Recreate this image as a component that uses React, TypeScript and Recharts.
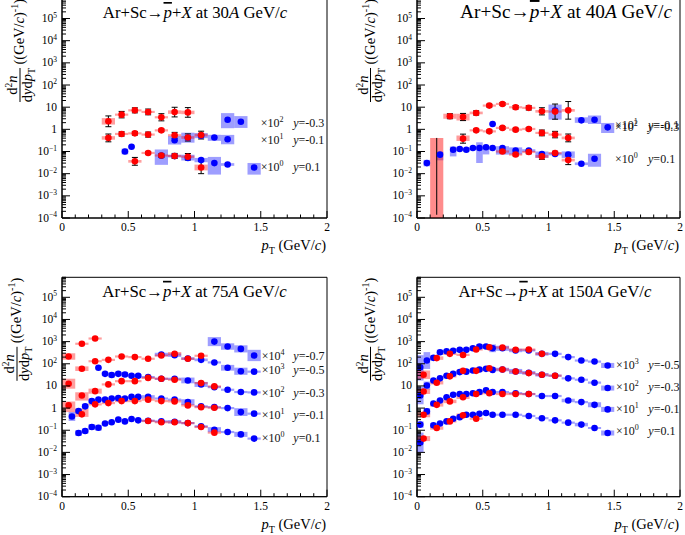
import React from 'react';
import { ScatterChart, Scatter, XAxis, YAxis, ErrorBar, ReferenceArea, ReferenceLine } from 'recharts';

const SERIF = "'Liberation Serif', Tinos, 'Times New Roman', 'DejaVu Serif', serif";
const Y_DOMAIN: [number, number] = [1e-4, 8e5];
const X_DOMAIN: [number, number] = [0, 2];

// ---- tick definitions ----
const xMajorTicks = [0, 0.5, 1, 1.5, 2];
const xMajorLabels = ['0', '0.5', '1', '1.5', '2'];
const xMinorTicks = [0.1, 0.2, 0.3, 0.4, 0.6, 0.7, 0.8, 0.9, 1.1, 1.2, 1.3, 1.4, 1.6, 1.7, 1.8, 1.9];
const yDecadeTicks = [1e-4, 1e-3, 1e-2, 1e-1, 1, 10, 1e2, 1e3, 1e4, 1e5];
const yDecadeExponents = [-4, -3, -2, -1, 0, 1, 2, 3, 4, 5];
const yMinorSteps = [2, 3, 4, 5, 6, 7, 8, 9];

// ---- data: [pT, value, sysUp, sysDown, stat] (multiplicative factors) ----
const red30 = [
  [0.35, 2.3, 1.4, 1.4, 1.75], [0.45, 4.6, 1.12, 1.12, 1.4], [0.55, 7.2, 1.12, 1.12, 1.3],
  [0.65, 6.1, 1.12, 1.12, 1.35], [0.75, 3.5, 1.12, 1.12, 1.45], [0.85, 6.0, 1.2, 1.2, 1.65],
  [0.95, 5.8, 1.2, 1.2, 1.65],
  [0.35, 0.41, 1.2, 1.2, 1.5], [0.45, 0.62, 1.12, 1.12, 1.25], [0.55, 0.66, 1.12, 1.12, 1.2],
  [0.65, 0.58, 1.12, 1.12, 1.3], [0.75, 0.9, 1.12, 1.12, 1.15], [0.85, 0.54, 1.12, 1.12, 1.35],
  [0.95, 0.43, 1.15, 1.15, 1.45], [1.05, 0.55, 1.15, 1.15, 1.5],
  [0.55, 0.036, 1.15, 1.15, 1.5], [0.65, 0.086, 1.12, 1.12, 1.15], [0.75, 0.066, 1.12, 1.12, 1.2],
  [0.85, 0.063, 1.12, 1.12, 1.3], [0.95, 0.058, 1.12, 1.12, 1.4], [1.05, 0.019, 1.35, 1.35, 1.9],
];
const blue30 = [
  [1.25, 2.7, 2.0, 2.4], [1.35, 2.2, 1.8, 1.9],
  [0.85, 0.32, 1.55, 1.55], [0.95, 0.42, 1.68, 1.68], [1.05, 0.52, 1.3, 1.3],
  [1.15, 0.43, 1.32, 1.42], [1.25, 0.36, 1.56, 1.7],
  [0.475, 0.1, 1.35, 1.35], [0.525, 0.165, 1.15, 1.15], [0.75, 0.065, 1.9, 2.6],
  [0.85, 0.062, 1.15, 1.15], [0.95, 0.051, 1.4, 1.3], [1.05, 0.041, 1.25, 1.25],
  [1.15, 0.03, 1.9, 3.3], [1.25, 0.026, 1.15, 1.15], [1.45, 0.019, 1.6, 2.1],
];
const red40 = [
  [0.25, 3.9, 1.3, 1.3, 1.3], [0.35, 3.6, 1.4, 1.45, 1.45], [0.45, 5.5, 1.15, 1.15, 1.25],
  [0.55, 11.8, 1.12, 1.12, 1.15], [0.65, 14, 1.12, 1.12, 1.15], [0.75, 9.9, 1.12, 1.12, 1.2],
  [0.85, 9.3, 1.12, 1.12, 1.25], [0.95, 6.5, 1.15, 1.15, 1.45], [1.05, 6.3, 1.12, 1.12, 2.2],
  [1.15, 7.2, 1.15, 1.15, 2.5],
  [0.35, 0.38, 1.37, 1.27, 1.6], [0.45, 0.9, 1.12, 1.12, 1.15], [0.55, 0.81, 1.12, 1.12, 1.15],
  [0.65, 1.16, 1.12, 1.12, 1.15], [0.75, 0.97, 1.12, 1.12, 1.15], [0.85, 1.04, 1.12, 1.12, 1.15],
  [0.95, 0.69, 1.12, 1.12, 1.35], [1.05, 0.58, 1.12, 1.12, 1.4], [1.15, 0.41, 1.15, 1.15, 1.5],
  [0.65, 0.1, 1.12, 1.12, 1.15], [0.75, 0.073, 1.12, 1.12, 1.15], [0.85, 0.095, 1.12, 1.12, 1.2],
  [0.95, 0.06, 1.15, 1.15, 1.35], [1.05, 0.085, 1.12, 1.12, 1.2], [1.15, 0.041, 1.15, 1.15, 1.6],
];
// red point at 0.15 in 40A: [pT, box top, stat lower end] (point itself below the axis range)
const red40Low = [0.15, 0.41, 1.4e-4];
const blue40 = [
  [1.05, 7.0, 1.87, 2.55], [1.25, 2.55, 1.37, 1.3], [1.35, 2.7, 1.56, 1.56], [1.45, 1.23, 1.58, 1.8],
  [0.575, 1.75, 1.12, 1.12],
  [0.075, 0.03, 1.4, 1.4], [0.175, 0.072, 1.35, 1.8], [0.275, 0.12, 1.4, 2.0], [0.325, 0.13, 1.2, 1.2],
  [0.375, 0.12, 1.2, 1.2], [0.425, 0.145, 1.15, 1.15], [0.475, 0.145, 1.8, 4.8], [0.525, 0.155, 1.17, 2.1],
  [0.575, 0.145, 1.15, 1.15], [0.65, 0.145, 1.2, 2.0], [0.75, 0.11, 1.4, 1.5], [0.85, 0.11, 1.15, 1.15],
  [0.95, 0.077, 1.3, 1.5], [1.05, 0.077, 1.15, 1.15], [1.15, 0.072, 1.4, 1.4], [1.25, 0.028, 1.15, 1.15],
  [1.35, 0.047, 1.7, 2.3],
];
const red75 = [
  [0.05, 213, 1.4, 1.4], [0.15, 800], [0.25, 1380],
  [0.05, 12.6, 1.68, 1.68], [0.15, 60, 1.27, 1.27], [0.25, 130], [0.35, 150], [0.45, 213], [0.55, 200],
  [0.65, 168], [0.75, 236], [0.85, 282, 1.2, 1.2], [0.95, 168], [1.05, 230],
  [0.05, 1.32, 1.5, 2.0], [0.15, 3.7, 1.4, 1.7], [0.25, 5.8, 1.3, 1.3], [0.35, 11.7], [0.45, 16.4],
  [0.55, 16.4], [0.65, 23], [0.75, 21], [0.85, 19], [1.05, 13.4], [1.15, 9.5],
  [0.15, 0.52, 1.8, 1.3], [0.25, 1.47], [0.35, 1.68], [0.45, 2.07], [0.55, 2.07], [0.65, 2.4],
  [0.75, 2.07], [0.85, 2.0], [0.95, 1.32], [1.05, 1.1], [1.15, 1.04],
  [0.65, 0.26], [0.75, 0.23], [0.85, 0.23], [0.95, 0.21], [1.05, 0.14], [1.15, 0.078],
];
const blue75 = [
  [1.15, 1000, 1.6, 1.6], [1.25, 600, 1.4, 1.4], [1.35, 470, 1.45, 1.45], [1.45, 237, 1.8, 1.8],
  [0.75, 262, 1.2, 1.2], [0.85, 245, 1.2, 1.2], [0.95, 172, 1.15, 1.15], [1.05, 150, 1.15, 1.15],
  [1.15, 115], [1.25, 66, 1.35, 1.35], [1.35, 46, 1.45, 1.45], [1.45, 44],
  [0.275, 66], [0.325, 35, 1.2, 1.2], [0.375, 31, 1.3, 1.3], [0.425, 35, 1.25, 1.25], [0.475, 33, 1.3, 1.3],
  [0.525, 29, 1.2, 1.2], [0.575, 29, 1.2, 1.2], [0.65, 25], [0.75, 21], [0.85, 21], [0.95, 17.7, 1.35, 1.35],
  [1.05, 11.7, 1.3, 1.3], [1.15, 8.8], [1.25, 6.7], [1.35, 5.3], [1.45, 5.1],
  [0.075, 0.42, 1.6, 1.6], [0.125, 0.73, 1.3, 1.3], [0.175, 1.2, 1.3, 1.3], [0.225, 2.07, 1.3, 1.3],
  [0.275, 2.4], [0.325, 2.4], [0.375, 2.7], [0.425, 2.8, 1.2, 1.2], [0.475, 2.7], [0.525, 3.2], [0.575, 3.2],
  [0.65, 3.2, 1.2, 1.2], [0.75, 2.7], [0.85, 2.4], [0.95, 1.86, 1.35, 1.35], [1.05, 1.2], [1.15, 1.1],
  [1.25, 1.0], [1.35, 0.66, 1.5, 1.5], [1.45, 0.56],
  [0.125, 0.075, 1.35, 1.35], [0.175, 0.092, 1.3, 1.3], [0.225, 0.14, 1.35, 1.35], [0.275, 0.13, 1.35, 1.35],
  [0.325, 0.2], [0.375, 0.23], [0.425, 0.3], [0.475, 0.25], [0.525, 0.32], [0.575, 0.28], [0.65, 0.27],
  [0.75, 0.25], [0.85, 0.24, 1.2, 1.2], [0.95, 0.21], [1.05, 0.15], [1.15, 0.106, 1.3, 1.3], [1.25, 0.083],
  [1.35, 0.065, 1.3, 1.3], [1.45, 0.042],
];
const red150 = [
  [0.05, 32, 1.55, 1.55], [0.15, 180, 1.2, 1.2], [0.25, 280], [0.35, 250], [0.45, 440], [0.55, 560],
  [0.65, 540], [0.75, 430], [0.85, 440], [0.95, 280],
  [0.05, 5.6, 1.3, 1.3], [0.15, 14, 1.2, 1.2], [0.25, 27], [0.35, 48], [0.45, 48], [0.55, 63], [0.65, 55],
  [0.75, 45], [0.85, 38], [0.95, 32], [1.05, 29],
  [0.05, 0.5, 1.3, 1.3], [0.15, 1.4, 1.2, 1.2], [0.25, 2.0, 1.2, 1.2], [0.35, 3.1, 1.2, 1.2], [0.45, 4.3],
  [0.55, 4.7], [0.65, 4.3], [0.75, 4.3], [0.85, 4.3],
  [0.05, 0.042, 1.3, 1.3], [0.15, 0.126, 1.2, 1.2], [0.25, 0.25], [0.35, 0.47, 1.2, 1.2], [0.45, 0.33],
];
const blue150 = [
  [0.025, 70, 3.5, 4.0], [0.075, 140, 2.4, 2.4], [0.125, 185, 1.3, 1.3], [0.175, 330, 1.3, 1.3], [0.225, 370],
  [0.275, 390], [0.325, 425, 1.2, 1.2], [0.375, 425], [0.425, 500, 1.2, 1.2], [0.475, 600, 1.3, 1.3],
  [0.525, 600, 1.25, 1.25], [0.575, 500, 1.5, 1.5], [0.65, 500, 1.3, 1.3], [0.75, 400, 1.2, 1.2], [0.85, 400],
  [0.95, 280, 1.2, 1.2], [1.05, 280], [1.15, 200], [1.25, 140], [1.35, 126], [1.45, 84, 1.3, 1.3],
  [0.025, 3.7, 2.5, 2.5], [0.075, 10.5, 1.5, 1.5], [0.125, 17.6], [0.175, 22], [0.225, 29], [0.275, 35],
  [0.325, 42], [0.375, 44], [0.425, 50], [0.475, 55], [0.525, 59], [0.575, 53], [0.65, 55, 1.2, 1.2],
  [0.75, 45, 1.3, 1.3], [0.85, 39, 1.2, 1.2], [0.95, 32, 1.2, 1.2], [1.05, 29], [1.15, 22], [1.25, 19],
  [1.35, 14], [1.45, 8, 1.3, 1.3],
  [0.025, 0.18, 1.4, 1.4], [0.075, 0.71, 1.4, 1.4], [0.125, 1.6], [0.175, 2.2], [0.225, 3.1], [0.275, 4.0],
  [0.325, 4.3], [0.375, 4.3], [0.425, 4.7], [0.475, 5.3], [0.525, 6.3], [0.575, 5.3], [0.65, 5.3], [0.75, 4.7],
  [0.85, 4.3], [0.95, 3.5], [1.05, 3.5], [1.15, 2.2, 1.2, 1.2], [1.25, 1.86], [1.35, 1.4, 1.3, 1.3],
  [1.45, 0.87, 1.3, 1.3],
  [0.025, 0.028, 2.8, 2.8], [0.125, 0.166, 1.25, 1.25], [0.175, 0.2], [0.225, 0.25], [0.275, 0.33],
  [0.325, 0.39], [0.375, 0.5], [0.425, 0.5], [0.475, 0.55], [0.525, 0.6], [0.575, 0.5], [0.65, 0.5],
  [0.75, 0.5], [0.85, 0.44], [0.95, 0.35], [1.05, 0.28], [1.15, 0.22], [1.25, 0.18, 1.2, 1.2], [1.35, 0.126],
  [1.45, 0.075, 1.3, 1.3],
];

// ---- annotations: scale factors and rapidities ----
const scale30 = [{ x: 1.5, v: 1.95, n: '2' }, { x: 1.5, v: 0.34, n: '1' }, { x: 1.5, v: 0.021, n: '0' }];
const rap30 = [{ x: 1.745, v: 1.95, t: '-0.3' }, { x: 1.745, v: 0.34, t: '-0.1' }, { x: 1.745, v: 0.021, t: '0.1' }];
const scale40 = [{ x: 1.506, v: 1.55, n: '1' }, { x: 1.506, v: 1.25, n: '2' }, { x: 1.506, v: 0.045, n: '0' }];
const rap40 = [{ x: 1.757, v: 1.55, t: '-0.1' }, { x: 1.757, v: 1.25, t: '-0.3' }, { x: 1.757, v: 0.045, t: '0.1' }];
const scale75 = [
  { x: 1.507, v: 220, n: '4' }, { x: 1.507, v: 50, n: '3' }, { x: 1.507, v: 4.9, n: '2' },
  { x: 1.507, v: 0.5, n: '1' }, { x: 1.507, v: 0.045, n: '0' },
];
const rap75 = [
  { x: 1.746, v: 220, t: '-0.7' }, { x: 1.746, v: 50, t: '-0.5' }, { x: 1.746, v: 4.9, t: '-0.3' },
  { x: 1.746, v: 0.5, t: '-0.1' }, { x: 1.746, v: 0.045, t: '0.1' },
];
const scale150 = [
  { x: 1.513, v: 84, n: '3' }, { x: 1.513, v: 8.8, n: '2' }, { x: 1.513, v: 0.87, n: '1' }, { x: 1.513, v: 0.092, n: '0' },
];
const rap150 = [
  { x: 1.759, v: 84, t: '-0.5' }, { x: 1.759, v: 8.8, t: '-0.3' }, { x: 1.759, v: 0.87, t: '-0.1' }, { x: 1.759, v: 0.092, t: '0.1' },
];

const xTicks = [...xMajorTicks, ...xMinorTicks].sort((a, b) => a - b);
const yTicks: number[] = [];
yDecadeTicks.forEach((d) => {
  yTicks.push(d);
  yMinorSteps.forEach((s) => { if (d * s <= Y_DOMAIN[1]) yTicks.push(d * s); });
});

const build = (pts: number[][], fine: boolean) =>
  pts.map(([x, v, su = 1.12, sd = su, st = 0]) => ({
    x,
    v,
    hw: fine && x < 0.6 ? 0.025 : 0.05,
    lo: Math.max(v / sd, Y_DOMAIN[0]),
    hi: Math.min(v * su, Y_DOMAIN[1]),
    st,
    err: st ? [v - v / st, v * st - v] : [0, 0],
  }));

const txt = { fontFamily: SERIF };

const XTick = (props: any) => {
  const { x, payload, axisY } = props;
  const idx = xMajorTicks.findIndex((t) => Math.abs(t - payload.value) < 1e-9);
  const major = idx >= 0;
  return (
    <g>
      <line x1={x} x2={x} y1={axisY} y2={axisY - (major ? 7 : 3.5)} stroke="#000" strokeWidth={1} />
      {major && (
        <text x={x} y={axisY + 13} textAnchor="middle" style={txt} fontSize={11.5} fill="#000">
          {xMajorLabels[idx]}
        </text>
      )}
    </g>
  );
};

const YTick = (props: any) => {
  const { y, payload, axisX } = props;
  const v = payload.value;
  const idx = yDecadeTicks.findIndex((t) => Math.abs(t - v) / t < 1e-6);
  const major = idx >= 0;
  const e = major ? yDecadeExponents[idx] : 0;
  const label = e === 0 ? '1' : e === 1 ? '10' : null;
  return (
    <g>
      <line x1={axisX} x2={axisX + (major ? 8 : 4)} y1={y} y2={y} stroke="#000" strokeWidth={1} />
      {major && label && (
        <text x={axisX - 5} y={y + 3.5} textAnchor="end" style={txt} fontSize={11.5} fill="#000">{label}</text>
      )}
      {major && !label && (
        <text x={axisX - 5} y={y + 3.5} textAnchor="end" style={txt} fontSize={11.5} fill="#000">
          10<tspan dy={-4.5} fontSize={7.5}>{e < 0 ? '\u2212' + Math.abs(e) : String(e)}</tspan>
        </text>
      )}
    </g>
  );
};

const makeDot = (color: string) => (p: any) =>
  p.cx == null ? <g /> : <circle cx={p.cx} cy={p.cy} r={3.3} fill={color} />;
const noShape = () => <g />;

const ScaleNote = (p: any) => (
  <text x={p.cx} y={p.cy + 4} style={txt} fontSize={12} fill="#111">
    ×10<tspan dy={-5} fontSize={8}>{p.payload.n}</tspan>
  </text>
);
const RapNote = (p: any) => (
  <text x={p.cx} y={p.cy + 4} style={txt} fontSize={12} fill="#111">
    <tspan fontStyle="italic">y</tspan>={p.payload.t}
  </text>
);

const Decor = ({ cfg }: any) => {
  const plotR = cfg.W - cfg.mr;
  const plotT = cfg.mt;
  const plotB = cfg.H - cfg.xh;
  const fy = plotT + 86.5;
  return (
    <g style={txt} fill="#000">
      <text x={cfg.titleX} y={plotT + 19.5} textAnchor="middle" style={txt} fontSize={cfg.titleSize}>
        Ar+Sc→<tspan fontStyle="italic" style={{ textDecoration: 'overline' }}>p</tspan>+<tspan fontStyle="italic">X</tspan> at {cfg.energy}<tspan fontStyle="italic">A</tspan> GeV/<tspan fontStyle="italic">c</tspan>
      </text>
      <text x={plotR - 1} y={plotB + 32} textAnchor="end" style={txt} fontSize={14.5}>
        <tspan fontStyle="italic">p</tspan><tspan dy={4} fontSize={10}>T</tspan><tspan dy={-4}> (GeV/</tspan><tspan fontStyle="italic">c</tspan>)
      </text>
      <g transform={`translate(${cfg.barX},${fy}) rotate(-90)`}>
        <text x={0} y={-3} textAnchor="middle" style={txt} fontSize={14.5}>
          d<tspan dy={-5} fontSize={9.5}>2</tspan><tspan dy={5} fontStyle="italic">n</tspan>
        </text>
        <line x1={-17} x2={17} y1={0} y2={0} stroke="#000" strokeWidth={1} />
        <text x={0} y={11.5} textAnchor="middle" style={txt} fontSize={14.5}>
          d<tspan fontStyle="italic">y</tspan>d<tspan fontStyle="italic">p</tspan><tspan dy={3} fontSize={10}>T</tspan>
        </text>
        <text x={20.5} y={4} style={txt} fontSize={14.5}>
          ((GeV/<tspan fontStyle="italic">c</tspan>)<tspan dy={-6} fontSize={10}>-1</tspan><tspan dy={6}>)</tspan>
        </text>
      </g>
    </g>
  );
};

const panels = [
  { key: 'p30', energy: '30', left: 0, top: -10, W: 340, H: 272, mt: 8.5, mr: 13, yw: 62, xh: 44, titleX: 195, titleSize: 16.8, barX: 20, red: red30, blue: blue30, scale: scale30, rap: rap30, low: null },
  { key: 'p40', energy: '40', left: 340, top: -10, W: 345, H: 272, mt: 8.5, mr: 5, yw: 77, xh: 44, titleX: 226, titleSize: 19.3, barX: 30.5, red: red40, blue: blue40, scale: scale40, rap: rap40, low: red40Low },
  { key: 'p75', energy: '75', left: 0, top: 268, W: 340, H: 267, mt: 9.3, mr: 13, yw: 62, xh: 38.3, titleX: 194.5, titleSize: 16.8, barX: 17, red: red75, blue: blue75, scale: scale75, rap: rap75, low: null },
  { key: 'p150', energy: '150', left: 340, top: 268, W: 345, H: 267, mt: 9.3, mr: 5, yw: 77, xh: 38.3, titleX: 215, titleSize: 16.8, barX: 30.5, red: red150, blue: blue150, scale: scale150, rap: rap150, low: null },
];

const RED = '#ff0000';
const BLUE = '#0000ff';

const Panel = ({ cfg }: any) => {
  const redData = build(cfg.red, false);
  const blueData = build(cfg.blue, true);
  const redErr = redData.filter((d) => d.st > 0);
  const blueErr = blueData.filter((d) => d.st > 0);
  const axisY = cfg.H - cfg.xh;
  return (
    <div style={{ position: 'absolute', left: cfg.left, top: cfg.top, width: cfg.W, height: cfg.H }}>
      <ScatterChart width={cfg.W} height={cfg.H} margin={{ top: cfg.mt, right: cfg.mr, bottom: 0, left: 0 }}>
        <XAxis
          type="number" dataKey="x" domain={X_DOMAIN} ticks={xTicks} interval={0} allowDataOverflow
          tickLine={false} axisLine={{ stroke: '#000' }} height={cfg.xh} tick={<XTick axisY={axisY} />}
        />
        <YAxis
          type="number" dataKey="v" scale="log" domain={Y_DOMAIN} ticks={yTicks} interval={0} allowDataOverflow
          tickLine={false} axisLine={{ stroke: '#000' }} width={cfg.yw} tick={<YTick axisX={cfg.yw} />}
          label={<Decor cfg={cfg} />}
        />
        <ReferenceArea x1={X_DOMAIN[0]} x2={X_DOMAIN[1]} y1={Y_DOMAIN[0]} y2={Y_DOMAIN[1]} fill="none" stroke="#000" ifOverflow="visible" />
        {blueData.map((d, i) => (
          <ReferenceArea key={'bb' + i} x1={d.x - d.hw} x2={d.x + d.hw} y1={d.lo} y2={d.hi} fill={BLUE} fillOpacity={0.38} stroke="none" ifOverflow="visible" />
        ))}
        {redData.map((d, i) => (
          <ReferenceArea key={'rb' + i} x1={d.x - d.hw} x2={d.x + d.hw} y1={d.lo} y2={d.hi} fill={RED} fillOpacity={0.38} stroke="none" ifOverflow="visible" />
        ))}
        {cfg.low && (
          <ReferenceArea x1={cfg.low[0] - 0.05} x2={cfg.low[0] + 0.05} y1={Y_DOMAIN[0]} y2={cfg.low[1]} fill={RED} fillOpacity={0.45} stroke="none" ifOverflow="visible" />
        )}
        {cfg.low && (
          <ReferenceLine segment={[{ x: cfg.low[0], y: cfg.low[2] }, { x: cfg.low[0], y: cfg.low[1] }]} stroke="#000" strokeWidth={1} ifOverflow="visible" />
        )}
        <Scatter data={blueErr} shape={noShape} isAnimationActive={false}>
          <ErrorBar dataKey="err" direction="y" width={3} stroke="#000" strokeWidth={1} />
        </Scatter>
        <Scatter data={redErr} shape={noShape} isAnimationActive={false}>
          <ErrorBar dataKey="err" direction="y" width={3} stroke="#000" strokeWidth={1} />
        </Scatter>
        <Scatter data={blueData} shape={makeDot(BLUE)} isAnimationActive={false} />
        <Scatter data={redData} shape={makeDot(RED)} isAnimationActive={false} />
        <Scatter data={cfg.scale} shape={ScaleNote} isAnimationActive={false} />
        <Scatter data={cfg.rap} shape={RapNote} isAnimationActive={false} />
      </ScatterChart>
    </div>
  );
}

export default function App() {
  return (
    <div style={{ position: 'absolute', left: 0, top: 0, width: 685, height: 535, background: '#fff', overflow: 'hidden' }}>
      {panels.map((p) => (
        <Panel key={p.key} cfg={p} />
      ))}
    </div>
  );
}
